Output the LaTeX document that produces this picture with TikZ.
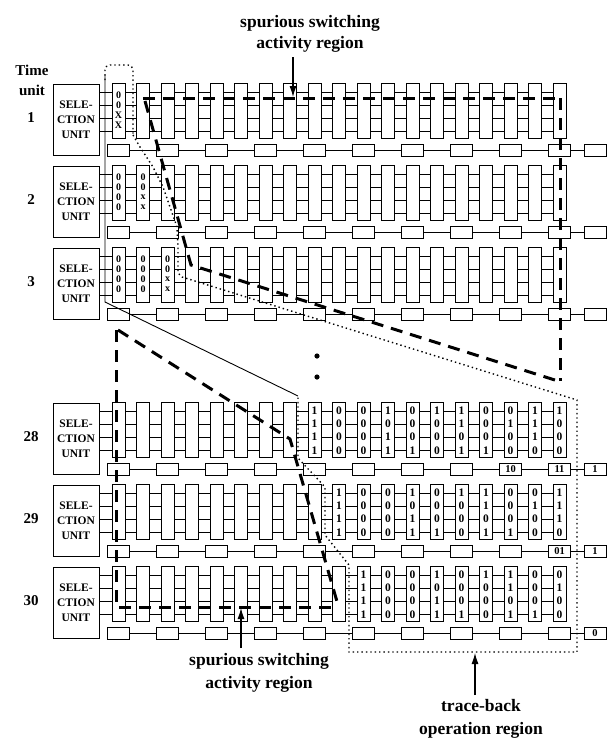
\documentclass[tikz,border=0pt]{standalone}
\usepackage{fontspec}
\setmainfont{Liberation Serif}
\usetikzlibrary{arrows.meta,calc}
\begin{document}
\begin{tikzpicture}[x=1pt,y=-1pt,
  colbox/.style={draw,fill=white,line width=0.8pt,minimum width=13pt,minimum height=55pt,inner sep=0pt},
  selbox/.style={draw,fill=white,line width=0.8pt,minimum width=46pt,minimum height=71pt,inner sep=0pt,align=center,font=\fontsize{11.5}{15}\selectfont\bfseries},
  chainbox/.style={draw,fill=white,line width=0.8pt,minimum width=22pt,minimum height=12pt,inner sep=0pt},
  wire/.style={line width=0.8pt},
  bit/.style={inner sep=0pt,font=\fontsize{11.5}{10}\selectfont\bfseries},
  sbit/.style={inner sep=0pt,font=\fontsize{10}{9}\selectfont\bfseries},
  clabel/.style={inner sep=0pt,font=\fontsize{10.5}{10}\selectfont\bfseries},
  bigtext/.style={inner sep=0pt,anchor=base,font=\fontsize{17.5}{20}\selectfont\bfseries},
  rowlbl/.style={inner sep=0pt,font=\fontsize{15}{17}\selectfont\bfseries},
  heavy/.style={line width=3pt,dash pattern=on 12pt off 8pt},
  dotline/.style={line width=1.4pt,dash pattern=on 1.4pt off 3pt},
  thinline/.style={line width=0.9pt},
  arr/.style={line width=1.1pt,-{Latex[length=11pt,width=7pt]}}
]
\useasboundingbox (0,0) rectangle (608,740);

% rows of the trellis
\foreach \r/\T in {1/83,2/165,3/247,28/402,29/484,30/566}{
  \node[selbox] (s\r) at (76,\T+36.5) {SELE-\\CTION\\UNIT};
  \foreach \k in {0,...,18}{
    \node[colbox] (c\r-\k) at (118.5+24.5*\k,\T+27.5) {};
  }
  \foreach \o in {-18.5,-5.5,7.5,20.5}{
    \draw[wire] ($(s\r.east |- c\r-0.west)+(0,\o)$) -- ($(c\r-0.west)+(0,\o)$);
  }
  \foreach \k in {0,...,17}{
    \pgfmathtruncatemacro\kn{\k+1}
    \foreach \o in {-18.5,-5.5,7.5,20.5}{
      \draw[wire] ($(c\r-\k.east)+(0,\o)$) -- ($(c\r-\kn.west)+(0,\o)$);
    }
  }
  \foreach \j in {0,...,9}{
    \node[chainbox] (b\r-\j) at (118.5+49*\j,\T+67) {};
  }
  \node[chainbox] (x\r) at (595,\T+67) {};
  \foreach \j in {0,...,8}{
    \pgfmathtruncatemacro\jn{\j+1}
    \draw[wire] (b\r-\j.east) -- (b\r-\jn.west);
  }
  \draw[wire] (b\r-9.east) -- (x\r.west);
  \node[rowlbl] (n\r) at (31,\T+35) {\r};
}

% small contents of the first time units
\foreach \r/\k/\a/\b/\c/\d in {1/0/0/0/X/X,2/0/0/0/0/0,2/1/0/0/x/x,3/0/0/0/0/0,3/1/0/0/0/0,3/2/0/0/x/x}{
  \node[sbit] at ($(c\r-\k)+(0,-15.5)$) {\a};
  \node[sbit] at ($(c\r-\k)+(0,-5.5)$) {\b};
  \node[sbit] at ($(c\r-\k)+(0,4.5)$) {\c};
  \node[sbit] at ($(c\r-\k)+(0,14.5)$) {\d};
}

% bit contents of time units 28-30
\def\patlist{0/1/1/1/1,1/0/0/0/0,2/0/0/0/0,3/1/0/1/1,4/0/0/0/1,5/1/0/0/0,6/1/1/0/1,7/0/0/0/1,8/0/1/0/0,9/1/1/1/0,10/1/0/0/0}
\foreach \r/\s in {28/8,29/9,30/10}{
  \foreach \i/\a/\b/\c/\d in \patlist{
    \pgfmathtruncatemacro\kk{\s+\i}
    \ifnum\kk<19
      \node[bit] at ($(c\r-\kk)+(0,-19)$) {\a};
      \node[bit] at ($(c\r-\kk)+(0,-5.5)$) {\b};
      \node[bit] at ($(c\r-\kk)+(0,7.5)$) {\c};
      \node[bit] at ($(c\r-\kk)+(0,21)$) {\d};
    \fi
  }
}

\node[clabel] at (b28-8) {10};
\node[clabel] at (b28-9) {11};
\node[clabel] at (x28) {1};
\node[clabel] at (b29-9) {01};
\node[clabel] at (x29) {1};
\node[clabel] at (x30) {0};

% labels
\node[rowlbl] (time) at (32,70) {Time};
\node[rowlbl] (unit) at (32,90) {unit};

\node[bigtext] (t1) at (310,27) {spurious switching};
\node[bigtext] (t2) at (310,48) {activity region};
\node[bigtext] (b1) at (259,665) {spurious switching};
\node[bigtext] (b2) at (259,688) {activity region};
\node[bigtext] (r1) at (481,711) {trace-back};
\node[bigtext] (r2) at (481,734) {operation region};

\coordinate (ta) at (293,57);
\coordinate (tb) at (293,97);
\draw[arr] (ta) -- (tb);
\coordinate (ba) at (241,648);
\coordinate (bb) at (241,608);
\draw[arr] (ba) -- (bb);
\coordinate (ra) at (475,695);
\coordinate (rb) at (475,653);
\draw[arr] (ra) -- (rb);

% vertical ellipsis
\fill (317,356) circle (2.6);
\fill (317,377) circle (2.6);

% spurious switching regions (heavy dashed)
\draw[heavy] (143,98) -- (556,98);
\draw[heavy] (560,98) -- (560,381);
\draw[heavy] (145,101) -- (191,265) -- (558,381);
\draw[heavy] (116,330) -- (116,607) -- (338,607);
\draw[heavy] (118,330) -- (290,439) -- (338,605);

% trace-back operation region (dotted) and its solid side
\draw[dotline,rounded corners=5pt] (105,80) -- (105,65) -- (133,65) -- (133,135);
\draw[dotline] (133,135) -- (140,147) -- (153,167) -- (163,187) -- (170,207) -- (177,227) -- (178,247) -- (178,273) -- (182,277) -- (577,400) -- (577,652) -- (349,652) -- (349,565) -- (325,535) -- (325,487) -- (298,458) -- (298,396);
\draw[thinline] (298,396) -- (105,302) -- (105,75);
\end{tikzpicture}
\end{document}
